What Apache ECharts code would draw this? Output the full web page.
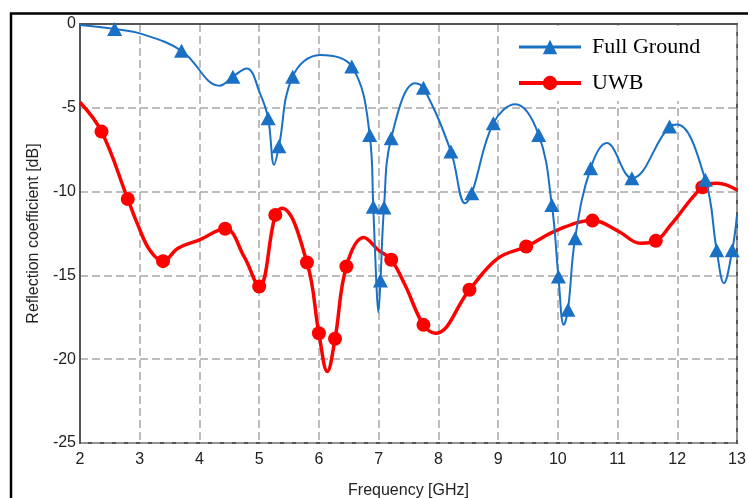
<!DOCTYPE html>
<html>
<head>
<meta charset="utf-8">
<script src="https://cdn.jsdelivr.net/npm/echarts@6/dist/echarts.min.js"></script>
<style>
html,body{margin:0;padding:0;background:#fff;}
#chart{width:748px;height:498px;}
</style>
</head>
<body>
<div id="chart"></div>
<script>
// ---- Data ----
const xTicks = [2, 3, 4, 5, 6, 7, 8, 9, 10, 11, 12, 13];
const yTicks = [-25, -20, -15, -10, -5, 0];

// Full Ground: frequency (GHz), reflection (dB), marker flag
const fgFreq = [2.00, 2.58, 3.00, 3.70, 4.34, 4.56, 4.79, 5.02, 5.15, 5.25, 5.33, 5.56, 6.02, 6.55, 6.85, 6.91, 6.96, 6.995, 7.03, 7.09, 7.21, 7.61, 7.75, 8.21, 8.45, 8.56, 8.92, 9.29, 9.68, 9.90, 10.01, 10.10, 10.17, 10.29, 10.55, 10.82, 11.24, 11.87, 12.00, 12.47, 12.66, 12.78, 12.92, 13.00];
const fgDb   = [-0.06, -0.30, -0.56, -1.60, -3.68, -3.14, -2.65, -4.20, -5.62, -8.40, -7.30, -3.14, -1.85, -2.54, -6.62, -10.90, -15.30, -17.20, -15.30, -10.95, -6.82, -3.54, -3.80, -7.60, -10.70, -10.10, -5.92, -4.79, -6.62, -10.80, -15.07, -17.95, -17.05, -12.78, -8.60, -7.10, -9.20, -6.12, -6.00, -9.30, -13.50, -15.46, -13.50, -11.40];
const fgMark = [0, 1, 0, 1, 0, 1, 0, 0, 1, 0, 1, 1, 0, 1, 1, 1, 0, 0, 1, 1, 1, 0, 1, 1, 0, 1, 1, 0, 1, 1, 1, 0, 1, 1, 1, 0, 1, 1, 0, 1, 1, 0, 1, 0];

// UWB
const uwbFreq = [2.00, 2.36, 2.80, 2.97, 3.17, 3.39, 3.64, 4.00, 4.43, 4.75, 5.00, 5.27, 5.38, 5.80, 6.00, 6.14, 6.27, 6.46, 6.75, 7.00, 7.21, 7.44, 7.75, 7.95, 8.52, 9.00, 9.47, 10.00, 10.58, 11.02, 11.38, 11.64, 11.89, 12.42, 12.67, 13.00];
const uwbDb   = [-4.67, -6.42, -10.44, -12.00, -13.50, -14.15, -13.38, -12.88, -12.22, -13.90, -15.66, -11.39, -11.00, -14.23, -18.45, -20.73, -18.78, -14.47, -12.74, -13.50, -14.07, -15.56, -17.95, -18.45, -15.86, -13.97, -13.28, -12.28, -11.73, -12.38, -13.08, -12.94, -11.99, -9.74, -9.50, -9.90];
const uwbMark = [0, 1, 1, 0, 0, 1, 0, 0, 1, 0, 1, 1, 0, 1, 1, 0, 1, 1, 0, 0, 1, 0, 1, 0, 1, 0, 1, 0, 1, 0, 0, 1, 0, 1, 0, 0];

const seriesNames = ['Full Ground', 'UWB'];
const xName = 'Frequency [GHz]';
const yName = 'Reflection coefficient [dB]';

// ---- Build ----
function build(fs, ds, ms, sym) {
  return fs.map((f, i) => ({ value: [f, ds[i]], symbol: ms[i] ? sym : 'none' }));
}

const chart = echarts.init(document.getElementById('chart'), null, { renderer: 'canvas' });

const tickFont = { fontFamily: 'Liberation Sans', fontSize: 16, color: '#222' };

chart.setOption({
  animation: false,
  backgroundColor: '#fff',
  grid: {
    left: 80, right: 11, top: 24, bottom: 55,
    containLabel: false, outerBoundsMode: 'none',
    show: true, borderColor: '#555', borderWidth: 2, backgroundColor: 'transparent'
  },
  graphic: [{
    type: 'rect', z: 100,
    shape: { x: 11, y: 13.5, width: 800, height: 600 },
    style: { fill: 'none', stroke: '#000', lineWidth: 2.5 }
  }],
  legend: {
    orient: 'vertical',
    left: 505, top: 26,
    z: 1,
    backgroundColor: '#fff',
    padding: [10, 36, 7, 12],
    itemWidth: 62, itemHeight: 18, itemGap: 14,
    textStyle: { fontFamily: 'Liberation Serif', fontSize: 22, color: '#000', lineHeight: 22, padding: [0, 0, 0, 6] },
    data: [
      { name: seriesNames[0], lineStyle: { width: 3 } },
      { name: seriesNames[1], lineStyle: { width: 4 } }
    ]
  },
  xAxis: {
    type: 'value', min: xTicks[0], max: xTicks[xTicks.length - 1], interval: 1,
    name: xName, nameLocation: 'middle', nameGap: 40,
    nameTextStyle: { fontFamily: 'Liberation Sans', fontSize: 16, color: '#222' },
    axisLine: { show: true, lineStyle: { color: '#555', width: 2 } },
    axisTick: { show: false },
    axisLabel: Object.assign({ margin: 9 }, tickFont),
    splitLine: { show: true, lineStyle: { color: '#a8a8a8', width: 1.5, type: [8, 4] } }
  },
  yAxis: {
    type: 'value', min: yTicks[0], max: yTicks[yTicks.length - 1], interval: 5,
    name: yName, nameLocation: 'middle', nameGap: 37, nameRotate: 90,
    nameTextStyle: { fontFamily: 'Liberation Sans', fontSize: 16, color: '#222' },
    axisLine: { show: true, lineStyle: { color: '#555', width: 2 } },
    axisTick: { show: false },
    axisLabel: Object.assign({ margin: 4 }, tickFont),
    splitLine: { show: true, lineStyle: { color: '#a8a8a8', width: 1.5, type: [8, 4] } }
  },
  series: [
    {
      name: seriesNames[0], type: 'line', smooth: 0.4, z: 3,
      showAllSymbol: true, symbol: 'triangle', symbolSize: [15, 14],
      lineStyle: { color: '#1a70c4', width: 2 },
      itemStyle: { color: '#1a70c4' },
      data: build(fgFreq, fgDb, fgMark, 'triangle')
    },
    {
      name: seriesNames[1], type: 'line', smooth: 0.4, z: 2,
      showAllSymbol: true, symbol: 'circle', symbolSize: 14,
      lineStyle: { color: '#ff0000', width: 3.5 },
      itemStyle: { color: '#ff0000' },
      data: build(uwbFreq, uwbDb, uwbMark, 'circle')
    }
  ]
});
</script>
</body>
</html>
